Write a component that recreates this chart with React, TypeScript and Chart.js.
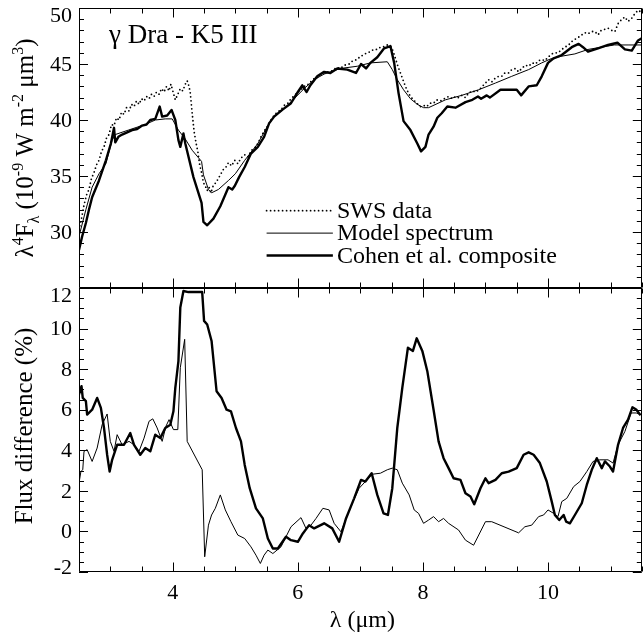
import React, { useEffect, useRef } from "react";
import { Chart, registerables } from "chart.js";

Chart.register(...registerables);

const W = 643;
const H = 636;
const FONT = "'Liberation Serif', 'Times New Roman', Times, serif";

// ---------- Data: top panel (lambda^4 F_lambda, 1e-9 W m^-2 um^3) ----------
const swsLambda = [
  2.5, 2.54, 2.58, 2.62, 2.66, 2.7, 2.74, 2.78, 2.82, 2.86, 2.9, 2.94, 2.98, 3.02, 3.06, 3.1, 3.14, 3.18, 3.22, 3.26,
  3.3, 3.34, 3.38, 3.42, 3.46, 3.5, 3.54, 3.58, 3.62, 3.66, 3.7, 3.74, 3.78, 3.82, 3.86, 3.9, 3.94, 3.97, 4.01, 4.04,
  4.08, 4.12, 4.16, 4.2, 4.23, 4.26, 4.28, 4.31, 4.34, 4.37, 4.4, 4.43, 4.46, 4.49, 4.52, 4.55, 4.58, 4.61, 4.65, 4.69,
  4.73, 4.77, 4.81, 4.85, 4.89, 4.94, 4.99, 5.04, 5.09, 5.15, 5.2, 5.26, 5.31, 5.36, 5.41, 5.46, 5.51, 5.57, 5.62, 5.67,
  5.73, 5.78, 5.84, 5.89, 5.95, 6.0, 6.05, 6.1, 6.15, 6.2, 6.26, 6.31, 6.37, 6.42, 6.48, 6.55, 6.62, 6.68, 6.75, 6.82,
  6.88, 6.95, 7.0, 7.05, 7.1, 7.16, 7.21, 7.27, 7.32, 7.38, 7.43, 7.48, 7.52, 7.56, 7.6, 7.64, 7.68, 7.72, 7.76, 7.8,
  7.85, 7.9, 7.96, 8.01, 8.06, 8.11, 8.17, 8.22, 8.28, 8.34, 8.41, 8.47, 8.52, 8.57, 8.62, 8.68, 8.73, 8.79, 8.84, 8.9,
  8.95, 9.0, 9.05, 9.1, 9.15, 9.21, 9.26, 9.31, 9.37, 9.42, 9.48, 9.53, 9.58, 9.64, 9.69, 9.75, 9.8, 9.85, 9.9, 9.95,
  10.0, 10.06, 10.11, 10.16, 10.22, 10.27, 10.33, 10.38, 10.43, 10.49, 10.54, 10.59, 10.64, 10.7, 10.75, 10.8, 10.85, 10.91, 10.96, 11.02,
  11.07, 11.12, 11.18, 11.23, 11.28, 11.34, 11.39, 11.44, 11.5,
];
const swsFlux = [
  30.2, 31.2, 32.4, 33.3, 33.8, 34.8, 35.3, 36.0, 36.4, 37.2, 37.6, 38.4, 38.7, 39.6, 39.5, 40.2, 40.0, 40.7, 40.5, 41.1,
  40.8, 41.4, 41.2, 41.7, 41.4, 41.9, 41.7, 42.1, 41.9, 42.3, 42.1, 42.5, 42.3, 42.8, 42.5, 43.0, 42.6, 43.2, 42.4, 41.8,
  42.3, 42.8, 42.6, 43.2, 43.5, 43.0, 42.4, 40.6, 39.0, 38.0, 37.2, 36.0, 35.3, 34.4, 34.1, 33.7, 34.0, 33.5, 34.2, 34.4,
  34.8, 35.2, 35.6, 35.8, 36.2, 35.9, 36.4, 36.1, 36.6, 36.9, 36.7, 37.3, 37.5, 37.9, 38.5, 39.0, 39.4, 40.0, 40.4, 40.7,
  40.9, 41.3, 41.5, 41.9, 42.2, 42.5, 42.7, 43.0, 43.1, 43.4, 43.7, 43.8, 44.1, 44.2, 44.3, 44.4, 44.7, 44.6, 44.9, 45.0,
  45.3, 45.4, 45.7, 45.8, 46.0, 46.1, 46.3, 46.3, 46.5, 46.55, 46.7, 46.6, 46.2, 45.5, 44.8, 44.2, 43.6, 43.0, 42.5, 42.1,
  41.8, 41.5, 41.2, 41.3, 41.2, 41.5, 41.5, 41.8, 41.7, 41.9, 42.1, 41.9, 42.1, 42.0, 42.2, 42.0, 42.4, 42.6, 42.5, 42.7,
  43.0, 43.3, 43.6, 43.4, 43.7, 43.9, 43.9, 44.2, 44.2, 44.5, 44.6, 44.3, 44.6, 44.9, 44.8, 45.1, 45.0, 45.3, 45.4, 45.3,
  45.6, 45.9, 46.0, 46.0, 46.3, 46.5, 46.7, 47.0, 47.2, 47.4, 47.6, 47.8, 47.7, 47.9, 47.9, 47.6, 48.0, 48.1, 48.2, 48.0,
  47.9, 48.6, 49.0, 49.2, 48.8, 49.1, 49.5, 49.8, 49.6,
];

const modelTopLambda = [
  2.5, 2.61, 2.71, 2.82, 2.93, 3.03, 3.08, 3.29, 3.56, 3.72, 3.88, 3.99, 4.09, 4.2, 4.31, 4.46, 4.49, 4.57, 4.62, 4.73,
  4.89, 5.0, 5.15, 5.36, 5.51, 5.62, 5.78, 5.94, 6.1, 6.26, 6.42, 6.68, 6.95, 7.16, 7.43, 7.51, 7.59, 7.69, 7.8, 7.91,
  8.01, 8.09, 8.36, 8.62, 8.89, 9.16, 9.42, 9.69, 9.9, 10.06, 10.22, 10.43, 10.64, 10.85, 11.06, 11.28, 11.5,
];
const modelTopFlux = [
  29.6, 32.0, 34.0, 35.2, 36.1, 38.2, 38.7, 39.1, 39.6, 40.0, 40.1, 40.1, 39.1, 38.3, 37.3, 36.3, 35.1, 33.8, 33.5, 33.8,
  34.6, 35.2, 36.4, 37.9, 39.4, 40.3, 41.0, 41.9, 42.8, 43.6, 44.1, 44.6, 44.8, 45.1, 45.2, 44.5, 43.6, 42.7, 41.9, 41.4,
  41.1, 41.1, 41.8, 42.2, 42.7, 43.3, 43.9, 44.5, 45.1, 45.5, 45.7, 45.9, 46.3, 46.5, 46.7, 46.7, 46.7,
];

const cohenTopLambda = [
  2.5, 2.55, 2.61, 2.66, 2.71, 2.82, 2.93, 3.01, 3.06, 3.08, 3.13, 3.19, 3.27, 3.35, 3.43, 3.51, 3.58, 3.64, 3.72, 3.79,
  3.83, 3.91, 3.98, 4.04, 4.09, 4.12, 4.17, 4.2, 4.33, 4.46, 4.49, 4.55, 4.65, 4.76, 4.89, 4.95, 4.99, 5.06, 5.15, 5.25,
  5.36, 5.46, 5.54, 5.62, 5.75, 5.89, 6.0, 6.07, 6.14, 6.2, 6.31, 6.42, 6.52, 6.63, 6.79, 6.93, 7.01, 7.09, 7.16, 7.27,
  7.38, 7.48, 7.54, 7.61, 7.69, 7.8, 7.91, 7.97, 8.04, 8.09, 8.17, 8.23, 8.3, 8.39, 8.52, 8.68, 8.79, 8.88, 8.93, 9.02,
  9.07, 9.24, 9.37, 9.5, 9.57, 9.69, 9.82, 9.9, 10.0, 10.09, 10.22, 10.38, 10.49, 10.56, 10.64, 10.8, 10.96, 11.11, 11.23, 11.34,
  11.44, 11.5,
];
const cohenTopFlux = [
  28.4, 29.6, 30.8, 32.0, 33.1, 34.6, 36.4, 37.9, 39.3, 38.0, 38.5, 38.7, 38.9, 39.1, 39.2, 39.5, 39.6, 40.0, 40.1, 41.2,
  40.3, 40.4, 40.9, 40.0, 38.2, 37.6, 38.8, 37.9, 34.9, 32.6, 30.9, 30.6, 31.2, 32.3, 34.0, 33.8, 34.1, 34.9, 35.8, 37.0,
  37.6, 38.5, 39.7, 40.3, 40.9, 41.5, 42.5, 43.1, 42.5, 43.1, 43.9, 44.3, 44.2, 44.6, 44.5, 44.2, 45.0, 44.6, 45.1, 45.6,
  46.4, 46.6, 45.1, 42.4, 39.9, 39.1, 37.9, 37.2, 37.6, 38.7, 39.4, 40.2, 40.6, 41.2, 41.1, 41.6, 41.8, 42.1, 41.9, 42.2,
  42.0, 42.7, 42.7, 42.7, 42.2, 43.0, 43.1, 43.9, 45.1, 45.5, 45.8, 46.5, 46.8, 46.5, 46.1, 46.4, 46.7, 46.9, 46.3, 46.2,
  47.1, 47.3,
];

// ---------- Data: bottom panel (flux difference, %) ----------
const modelDiffLambda = [
  2.5, 2.53, 2.56, 2.58, 2.63, 2.71, 2.79, 2.87, 2.95, 3.0, 3.06, 3.11, 3.19, 3.3, 3.38, 3.46, 3.54, 3.62, 3.68, 3.75,
  3.83, 3.89, 3.94, 4.01, 4.08, 4.12, 4.19, 4.23, 4.47, 4.51, 4.57, 4.62, 4.68, 4.76, 4.84, 4.93, 5.04, 5.15, 5.25, 5.33,
  5.4, 5.46, 5.52, 5.6, 5.73, 5.89, 6.05, 6.13, 6.21, 6.29, 6.4, 6.5, 6.58, 6.69, 6.77, 6.87, 6.98, 7.08, 7.19, 7.32,
  7.43, 7.51, 7.59, 7.67, 7.78, 7.86, 7.93, 8.01, 8.09, 8.17, 8.25, 8.33, 8.41, 8.57, 8.68, 8.81, 9.0, 9.1, 9.53, 9.63,
  9.74, 9.85, 9.93, 10.0, 10.09, 10.16, 10.22, 10.3, 10.41, 10.51, 10.62, 10.72, 10.83, 10.96, 11.04, 11.12, 11.23, 11.33, 11.41, 11.48,
];
const modelDiffPercent = [
  2.38, 2.95, 3.04, 3.95, 4.03, 3.45, 4.11, 5.26, 5.79, 4.44, 3.95, 4.77, 4.27, 4.44, 4.27, 3.95, 4.6, 5.43, 5.55, 5.1,
  4.44, 5.18, 5.51, 5.02, 5.02, 8.07, 9.47, 4.44, 3.04, -1.25, 0.31, 0.81, 1.14, 1.8, 1.06, 0.48, -0.18, -0.35, -0.76, -1.17,
  -1.58, -1.17, -0.92, -1.09, -0.76, 0.23, 0.68, 0.15, 0.31, 0.64, 1.14, 1.06, 0.4, -0.02, 0.64, 1.39, 2.13, 2.46, 2.82, 2.87,
  3.04, 3.12, 3.04, 2.38, 1.8, 1.06, 0.89, 0.4, 0.56, 0.73, 0.48, 0.64, 0.4, 0.07, -0.43, -0.68, 0.48, 0.48, -0.07, 0.23,
  0.31, 0.73, 0.81, 1.06, 0.89, 0.73, 1.47, 1.63, 2.21, 2.46, 2.95, 3.45, 3.53, 3.53, 3.37, 4.27, 4.93, 5.84, 5.84, 5.76,
];

const cohenDiffLambda = [
  2.5, 2.54, 2.56, 2.61, 2.63, 2.71, 2.79, 2.85, 2.9, 2.95, 2.99, 3.03, 3.11, 3.22, 3.32, 3.38, 3.48, 3.56, 3.64, 3.72,
  3.8, 3.88, 3.96, 4.01, 4.04, 4.09, 4.12, 4.17, 4.25, 4.47, 4.5, 4.55, 4.62, 4.7, 4.78, 4.86, 4.93, 5.01, 5.09, 5.15,
  5.23, 5.33, 5.44, 5.52, 5.6, 5.68, 5.81, 5.89, 6.0, 6.08, 6.18, 6.26, 6.42, 6.55, 6.66, 6.77, 6.9, 7.01, 7.08, 7.18,
  7.27, 7.37, 7.44, 7.51, 7.59, 7.67, 7.76, 7.84, 7.9, 7.99, 8.07, 8.17, 8.25, 8.33, 8.41, 8.49, 8.6, 8.68, 8.76, 8.82,
  8.92, 9.0, 9.05, 9.16, 9.26, 9.37, 9.5, 9.61, 9.69, 9.77, 9.87, 9.98, 10.06, 10.11, 10.18, 10.25, 10.29, 10.35, 10.43, 10.54,
  10.62, 10.7, 10.78, 10.86, 10.91, 10.99, 11.04, 11.12, 11.2, 11.28, 11.35, 11.41, 11.48,
];
const cohenDiffPercent = [
  6.75, 7.16, 6.58, 6.42, 5.76, 6.0, 6.58, 6.09, 5.1, 3.78, 2.95, 3.53, 4.27, 4.27, 4.85, 4.27, 3.78, 4.11, 3.95, 4.77,
  4.6, 5.1, 5.26, 5.92, 7.08, 8.4, 11.04, 11.85, 11.8, 11.8, 10.38, 10.2, 9.39, 6.91, 6.58, 6.0, 5.92, 5.1, 4.44, 3.28,
  2.13, 1.14, 0.64, -0.35, -0.84, -0.84, -0.26, -0.43, -0.51, -0.1, 0.31, 0.15, 0.4, 0.15, -0.51, 0.64, 1.63, 2.54, 2.46, 2.87,
  1.8, 0.89, 0.81, 2.13, 5.1, 7.08, 9.06, 8.9, 9.52, 8.9, 7.9, 6.0, 4.44, 3.61, 3.12, 2.62, 2.54, 1.88, 1.72, 1.34,
  2.13, 2.62, 2.38, 2.54, 2.87, 2.95, 3.12, 3.78, 3.9, 3.78, 3.37, 2.46, 1.47, 0.81, 0.56, 0.81, 0.48, 0.4, 0.81, 1.39,
  2.29, 3.04, 3.61, 3.12, 3.45, 3.2, 2.95, 4.27, 5.1, 5.51, 6.12, 6.01, 5.73,
];

// ---------- Axes / labels ----------
const xRange = [2.5, 11.5];
const xMajorTicks = [4, 6, 8, 10];
const xTickLabels = ["4", "6", "8", "10"];
const topRange = [25, 50];
const topMajorTicks = [25, 30, 35, 40, 45, 50];
const topTickLabels = ["30", "35", "40", "45", "50"];
const bottomRange = [-2, 12];
const bottomMajorTicks = [-2, 0, 2, 4, 6, 8, 10, 12];
const bottomTickLabels = ["-2", "0", "2", "4", "6", "8", "10", "12"];
const legendLabels = ["SWS data", "Model spectrum", "Cohen et al. composite"];
const starLabel = "γ Dra - K5 III";
const xTitle = "λ (μm)";
const bottomYTitle = "Flux difference (%)";

const pts = (xs: number[], ys: number[]) => xs.map((x, i) => ({ x, y: ys[i] }));

type Seg = { t: string; mode?: "sup" | "sub" };
const topYTitle: Seg[] = [
  { t: "λ" },
  { t: "4", mode: "sup" },
  { t: "F" },
  { t: "λ", mode: "sub" },
  { t: " (10" },
  { t: "-9", mode: "sup" },
  { t: " W m" },
  { t: "-2", mode: "sup" },
  { t: " μm" },
  { t: "3", mode: "sup" },
  { t: ")" },
];

function drawSegs(ctx: CanvasRenderingContext2D, segs: Seg[], cx: number, cy: number, size: number) {
  const small = Math.round(size * 0.62);
  const widths = segs.map((s) => {
    ctx.font = `${s.mode ? small : size}px ${FONT}`;
    return ctx.measureText(s.t).width;
  });
  const total = widths.reduce((a, b) => a + b, 0);
  let x = cx - total / 2;
  ctx.textAlign = "left";
  ctx.textBaseline = "alphabetic";
  const base = cy + size * 0.33;
  segs.forEach((s, i) => {
    ctx.font = `${s.mode ? small : size}px ${FONT}`;
    const dy = s.mode === "sup" ? -size * 0.4 : s.mode === "sub" ? size * 0.22 : 0;
    ctx.fillText(s.t, x, base + dy);
    x += widths[i];
  });
}

const framePlugin = {
  id: "frame",
  afterDatasetsDraw(chart: any) {
    const ctx: CanvasRenderingContext2D = chart.ctx;
    const xs = chart.scales.x;
    const left = xs.left;
    const right = xs.right;
    const panels = [
      { s: chart.scales.yTop, major: topMajorTicks, minorStep: 1, labels: topTickLabels },
      { s: chart.scales.yBot, major: bottomMajorTicks, minorStep: 0.5, labels: bottomTickLabels },
    ];
    ctx.save();
    ctx.strokeStyle = "#000";
    ctx.fillStyle = "#000";
    ctx.lineWidth = 1;
    const MAJ = 9;
    const MIN = 5;
    for (const p of panels) {
      const s = p.s;
      const top = Math.round(s.top) + 0.5;
      const bottom = Math.round(s.bottom) - 0.5;
      ctx.beginPath();
      ctx.rect(Math.round(left) + 0.5, top, Math.round(right) - Math.round(left) - 1, bottom - top);
      ctx.stroke();
      ctx.beginPath();
      for (let v = s.min; v <= s.max + 1e-9; v += p.minorStep) {
        const vv = Math.round(v * 100) / 100;
        const len = p.major.includes(vv) ? MAJ : MIN;
        const y = Math.round(s.getPixelForValue(vv)) + 0.5;
        ctx.moveTo(left, y);
        ctx.lineTo(left + len, y);
        ctx.moveTo(right, y);
        ctx.lineTo(right - len, y);
      }
      for (let v = xs.min; v <= xs.max + 1e-9; v += 0.5) {
        const vv = Math.round(v * 100) / 100;
        const len = xMajorTicks.includes(vv) ? MAJ : MIN;
        const x = Math.round(xs.getPixelForValue(vv)) + 0.5;
        ctx.moveTo(x, top);
        ctx.lineTo(x, top + len);
        ctx.moveTo(x, bottom);
        ctx.lineTo(x, bottom - len);
      }
      ctx.stroke();
      ctx.font = `22px ${FONT}`;
      ctx.textAlign = "right";
      ctx.textBaseline = "middle";
      for (const lab of p.labels) {
        let y = s.getPixelForValue(parseFloat(lab));
        y = Math.min(Math.max(y, s.top + 7), s.bottom - 5);
        ctx.fillText(lab, left - 7, y + 1);
      }
    }
    ctx.font = `22px ${FONT}`;
    ctx.textAlign = "center";
    ctx.textBaseline = "middle";
    xTickLabels.forEach((lab) => {
      ctx.fillText(lab, xs.getPixelForValue(parseFloat(lab)), xs.top + 21);
    });
    ctx.font = `24px ${FONT}`;
    ctx.fillText(xTitle, (left + right) / 2 + 2, xs.top + 49);

    const yTop = chart.scales.yTop;
    const yBot = chart.scales.yBot;
    ctx.save();
    ctx.translate(25, (yTop.top + yTop.bottom) / 2);
    ctx.rotate(-Math.PI / 2);
    drawSegs(ctx, topYTitle, 0, 0, 25);
    ctx.restore();
    ctx.save();
    ctx.translate(25, (yBot.top + yBot.bottom) / 2 - 4);
    ctx.rotate(-Math.PI / 2);
    ctx.font = `25px ${FONT}`;
    ctx.textAlign = "center";
    ctx.textBaseline = "middle";
    ctx.fillText(bottomYTitle, 0, 0);
    ctx.restore();

    ctx.font = `27px ${FONT}`;
    ctx.textAlign = "left";
    ctx.textBaseline = "middle";
    ctx.fillText(starLabel, left + 30, yTop.top + 28);

    const ds = chart.data.datasets;
    const rows = [ds[0], ds[1], ds[2]];
    const lx0 = xs.getPixelForValue(5.5);
    const lx1 = xs.getPixelForValue(6.56);
    rows.forEach((d: any, i: number) => {
      const y = yTop.getPixelForValue(31.9 - i * 2.0);
      ctx.save();
      ctx.strokeStyle = d.borderColor;
      ctx.lineWidth = d.borderWidth;
      ctx.lineCap = d.borderCapStyle || "butt";
      ctx.setLineDash(d.borderDash || []);
      ctx.beginPath();
      ctx.moveTo(lx0, y);
      ctx.lineTo(lx1, y);
      ctx.stroke();
      ctx.restore();
      ctx.font = `24px ${FONT}`;
      ctx.textAlign = "left";
      ctx.textBaseline = "middle";
      ctx.fillText(legendLabels[i], lx1 + 4, y + 1);
    });
    ctx.restore();
  },
};

export default function App() {
  const ref = useRef<HTMLCanvasElement>(null);
  useEffect(() => {
    const canvas = ref.current;
    if (!canvas) return;
    let alive = true;
    const line = (data: any, axis: string, width: number, extra: any = {}) => ({
      data,
      yAxisID: axis,
      borderColor: "#000",
      backgroundColor: "#000",
      borderWidth: width,
      pointRadius: 0,
      fill: false,
      tension: 0,
      ...extra,
    });
    const chart = new Chart(canvas, {
      type: "line",
      data: {
        datasets: [
          line(pts(swsLambda, swsFlux), "yTop", 1.8, { borderDash: [0, 4], borderCapStyle: "round" }),
          line(pts(modelTopLambda, modelTopFlux), "yTop", 1),
          line(pts(cohenTopLambda, cohenTopFlux), "yTop", 2.4),
          line(pts(modelDiffLambda, modelDiffPercent), "yBot", 1),
          line(pts(cohenDiffLambda, cohenDiffPercent), "yBot", 2.4),
        ],
      },
      options: {
        responsive: false,
        animation: false,
        devicePixelRatio: 1,
        layout: { padding: { top: 8, right: 1, left: 0, bottom: 0 } },
        plugins: { legend: { display: false }, tooltip: { enabled: false } },
        elements: { point: { radius: 0 }, line: { borderJoinStyle: "round" } },
        scales: {
          x: {
            type: "linear",
            position: "bottom",
            min: xRange[0],
            max: xRange[1],
            grid: { display: false },
            border: { display: false },
            ticks: { display: false },
            afterFit: (s: any) => {
              s.height = 64;
            },
          },
          yBot: {
            type: "linear",
            position: "left",
            stack: "panels",
            stackWeight: 284,
            min: bottomRange[0],
            max: bottomRange[1],
            grid: { display: false },
            border: { display: false },
            ticks: { display: false },
            afterFit: (s: any) => {
              s.width = 79;
            },
          },
          yTop: {
            type: "linear",
            position: "left",
            stack: "panels",
            stackWeight: 280,
            min: topRange[0],
            max: topRange[1],
            grid: { display: false },
            border: { display: false },
            ticks: { display: false },
            afterFit: (s: any) => {
              s.width = 79;
            },
          },
        },
      } as any,
      plugins: [framePlugin],
    });
    const fonts: any = (document as any).fonts;
    if (fonts && fonts.load) {
      Promise.all([
        fonts.load("22px 'Liberation Serif'"),
        fonts.load("24px 'Liberation Serif'", "λμγ"),
      ])
        .catch(() => null)
        .then(() => {
          if (alive) chart.update();
        });
    }
    return () => {
      alive = false;
      chart.destroy();
    };
  }, []);
  return (
    <div style={{ position: "fixed", left: 0, top: 0, width: W, height: H, background: "#fff" }}>
      <span
        style={{ position: "absolute", left: -9999, top: 0, fontFamily: "'Liberation Serif'", fontSize: 24 }}
      >
        λ μm γ 0123456789
      </span>
      <canvas ref={ref} width={W} height={H} style={{ display: "block", width: W, height: H }} />
    </div>
  );
}
